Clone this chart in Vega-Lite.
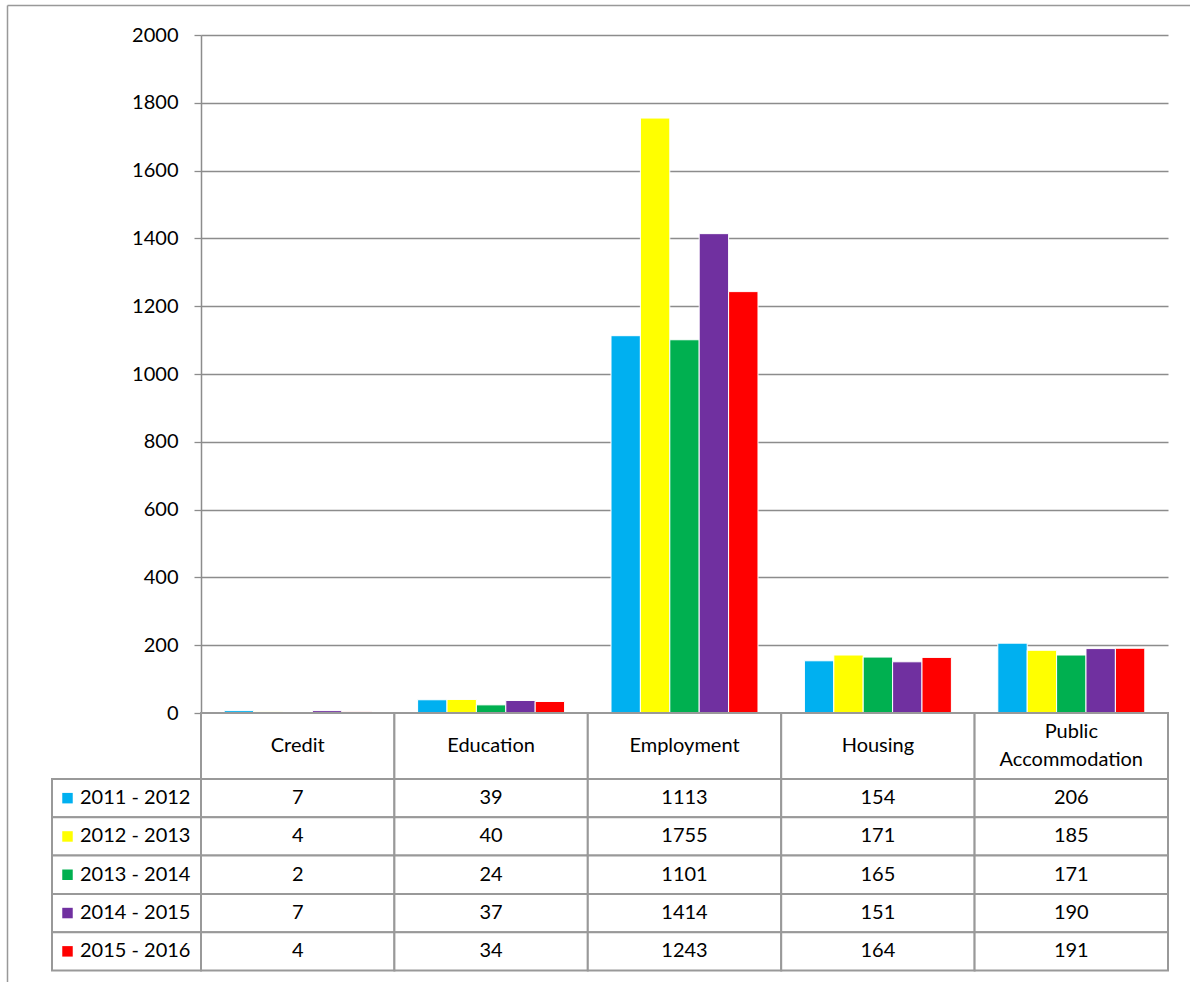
{
  "$schema": "https://vega.github.io/schema/vega-lite/v6.json",
  "padding": {"left": 7, "top": 5, "right": 0, "bottom": 0},
  "background": "white",
  "config": {"font": "Lato", "view": {"stroke": null}},
  "datasets": {
    "counts": [
      {"category": "Credit", "period": "2011 - 2012", "count": 7},
      {"category": "Credit", "period": "2012 - 2013", "count": 4},
      {"category": "Credit", "period": "2013 - 2014", "count": 2},
      {"category": "Credit", "period": "2014 - 2015", "count": 7},
      {"category": "Credit", "period": "2015 - 2016", "count": 4},
      {"category": "Education", "period": "2011 - 2012", "count": 39},
      {"category": "Education", "period": "2012 - 2013", "count": 40},
      {"category": "Education", "period": "2013 - 2014", "count": 24},
      {"category": "Education", "period": "2014 - 2015", "count": 37},
      {"category": "Education", "period": "2015 - 2016", "count": 34},
      {"category": "Employment", "period": "2011 - 2012", "count": 1113},
      {"category": "Employment", "period": "2012 - 2013", "count": 1755},
      {"category": "Employment", "period": "2013 - 2014", "count": 1101},
      {"category": "Employment", "period": "2014 - 2015", "count": 1414},
      {"category": "Employment", "period": "2015 - 2016", "count": 1243},
      {"category": "Housing", "period": "2011 - 2012", "count": 154},
      {"category": "Housing", "period": "2012 - 2013", "count": 171},
      {"category": "Housing", "period": "2013 - 2014", "count": 165},
      {"category": "Housing", "period": "2014 - 2015", "count": 151},
      {"category": "Housing", "period": "2015 - 2016", "count": 164},
      {"category": "Public Accommodation", "period": "2011 - 2012", "count": 206},
      {"category": "Public Accommodation", "period": "2012 - 2013", "count": 185},
      {"category": "Public Accommodation", "period": "2013 - 2014", "count": 171},
      {"category": "Public Accommodation", "period": "2014 - 2015", "count": 190},
      {"category": "Public Accommodation", "period": "2015 - 2016", "count": 191}
    ],
    "cats": [
      {"category": "Credit", "label": "Credit"},
      {"category": "Education", "label": "Education"},
      {"category": "Employment", "label": "Employment"},
      {"category": "Housing", "label": "Housing"},
      {"category": "Public Accommodation", "label": "Public\nAccommodation"}
    ],
    "series": [
      {"period": "2011 - 2012"},
      {"period": "2012 - 2013"},
      {"period": "2013 - 2014"},
      {"period": "2014 - 2015"},
      {"period": "2015 - 2016"}
    ]
  },
  "bounds": "flush",
  "spacing": 0,
  "columns": 2,
  "concat": [
    {
      "width": 149, "height": 678,
      "data": {"name": "series"},
      "mark": {"type": "text", "text": ""},
      "encoding": {
        "x": {"datum": 0, "type": "quantitative", "scale": {"domain": [0, 1], "range": [-45, 1138], "nice": false, "zero": false},
          "axis": {"orient": "top", "offset": 30, "domain": true, "domainColor": "#999999", "domainWidth": 1.5, "ticks": false, "labels": false, "grid": false, "title": null}},
        "y": {"datum": 0, "type": "quantitative", "scale": {"domain": [0, 1], "range": [947, -30], "nice": false, "zero": false},
          "axis": {"orient": "left", "offset": 45, "domain": true, "domainColor": "#999999", "domainWidth": 1.5, "ticks": false, "labels": false, "grid": false, "title": null}}
      }
    },
    {
      "width": 967, "height": 678,
      "data": {"name": "counts"},
      "mark": {"type": "bar", "stroke": "white", "strokeWidth": 1},
      "encoding": {
        "x": {"field": "category", "type": "nominal", "sort": ["Credit", "Education", "Employment", "Housing", "Public Accommodation"], "scale": {"paddingInner": 0.24, "paddingOuter": 0.12}, "axis": null},
        "xOffset": {"field": "period", "type": "nominal", "sort": ["2011 - 2012", "2012 - 2013", "2013 - 2014", "2014 - 2015", "2015 - 2016"], "scale": {"paddingInner": 0, "paddingOuter": 0}},
        "y": {"field": "count", "type": "quantitative", "scale": {"domain": [0, 2000], "nice": false},
          "axis": {"values": [0, 200, 400, 600, 800, 1000, 1200, 1400, 1600, 1800, 2000], "format": "d", "title": null, "grid": true, "gridColor": "#8c8c8c", "gridWidth": 1.3, "domainColor": "#8c8c8c", "domainWidth": 1.5, "tickColor": "#8c8c8c", "tickWidth": 1.3, "tickSize": 7, "labelPadding": 16, "labelFontSize": 20, "labelColor": "#000000", "labelFont": "Lato"}},
        "color": {"field": "period", "type": "nominal", "scale": {"domain": ["2011 - 2012", "2012 - 2013", "2013 - 2014", "2014 - 2015", "2015 - 2016"], "range": ["#00B0F0", "#FFFF00", "#00B050", "#7030A0", "#FF0000"]}, "legend": null}
      }
    },
    {
      "width": 149, "height": 66,
      "data": {"name": "series"},
      "mark": {"type": "text", "text": ""},
      "encoding": {}
    },
    {
      "width": 967, "height": 66,
      "data": {"name": "cats"},
      "layer": [
        {
          "mark": {"type": "rect", "fill": "white", "stroke": "#999999", "strokeWidth": 2},
          "encoding": {
            "x": {"field": "category", "type": "nominal", "sort": null, "scale": {"padding": 0}, "axis": null}
          }
        },
        {
          "transform": [{"filter": "datum.category !== 'Public Accommodation'"}],
          "mark": {"type": "text", "fontSize": 20, "color": "#000000"},
          "encoding": {
            "x": {"field": "category", "type": "nominal", "sort": null, "scale": {"padding": 0}, "axis": null},
            "text": {"field": "label"}
          }
        },
        {
          "transform": [{"filter": "datum.category === 'Public Accommodation'"}],
          "mark": {"type": "text", "fontSize": 20, "lineBreak": "\n", "lineHeight": 28.5, "dy": -14.5, "color": "#000000"},
          "encoding": {
            "x": {"field": "category", "type": "nominal", "sort": null, "scale": {"padding": 0}, "axis": null},
            "text": {"field": "label"}
          }
        }
      ]
    },
    {
      "width": 149, "height": 191.5,
      "data": {"name": "series"},
      "layer": [
        {
          "mark": {"type": "rect", "fill": "white", "stroke": "#999999", "strokeWidth": 2},
          "encoding": {
            "y": {"field": "period", "type": "nominal", "sort": null, "scale": {"padding": 0}, "axis": null}
          }
        },
        {
          "mark": {"type": "square", "size": 110, "opacity": 1, "xOffset": -59},
          "encoding": {
            "y": {"field": "period", "type": "nominal", "sort": null, "scale": {"padding": 0}, "axis": null},
            "color": {"field": "period", "type": "nominal", "scale": {"domain": ["2011 - 2012", "2012 - 2013", "2013 - 2014", "2014 - 2015", "2015 - 2016"], "range": ["#00B0F0", "#FFFF00", "#00B050", "#7030A0", "#FF0000"]}, "legend": null}
          }
        },
        {
          "mark": {"type": "text", "align": "left", "dx": -46.5, "fontSize": 20, "color": "#000000"},
          "encoding": {
            "y": {"field": "period", "type": "nominal", "sort": null, "scale": {"padding": 0}, "axis": null},
            "text": {"field": "period"}
          }
        }
      ]
    },
    {
      "width": 967, "height": 191.5,
      "data": {"name": "counts"},
      "layer": [
        {
          "mark": {"type": "rect", "fill": "white", "stroke": "#999999", "strokeWidth": 2},
          "encoding": {
            "x": {"field": "category", "type": "nominal", "sort": null, "scale": {"padding": 0}, "axis": null},
            "y": {"field": "period", "type": "nominal", "sort": null, "scale": {"padding": 0}, "axis": null}
          }
        },
        {
          "mark": {"type": "text", "fontSize": 20, "color": "#000000"},
          "encoding": {
            "x": {"field": "category", "type": "nominal", "sort": null, "scale": {"padding": 0}, "axis": null},
            "y": {"field": "period", "type": "nominal", "sort": null, "scale": {"padding": 0}, "axis": null},
            "text": {"field": "count"}
          }
        }
      ]
    }
  ]
}
